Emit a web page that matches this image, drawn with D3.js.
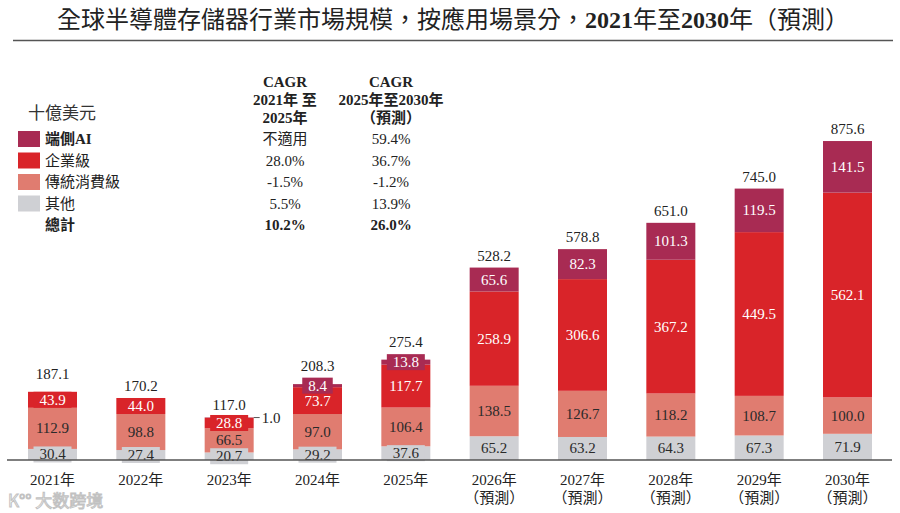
<!DOCTYPE html>
<html>
  <head>
    <meta charset="utf-8">
    <title>全球半導體存儲器行業市場規模</title>
    <script src="https://d3js.org/d3.v7.min.js"></script>
    <style>
      body {
        margin: 0;
        background-color: white;
      }
      svg text {
        font-family: "Liberation Serif", "Noto Sans CJK TC", serif;
      }
    </style>
  </head>
  <body>
    <script>
      // data (十億美元)
      const years = ['2021年', '2022年', '2023年', '2024年', '2025年', '2026年', '2027年', '2028年', '2029年', '2030年'];
      const forecast = [false, false, false, false, false, true, true, true, true, true];
      const other = [30.4, 27.4, 20.7, 29.2, 37.6, 65.2, 63.2, 64.3, 67.3, 71.9];
      const consumer = [112.9, 98.8, 66.5, 97.0, 106.4, 138.5, 126.7, 118.2, 108.7, 100.0];
      const enterprise = [43.9, 44.0, 28.8, 73.7, 117.7, 258.9, 306.6, 367.2, 449.5, 562.1];
      const edgeAI = [0, 0, 1.0, 8.4, 13.8, 65.6, 82.3, 101.3, 119.5, 141.5];
      const totals = [187.1, 170.2, 117.0, 208.3, 275.4, 528.2, 578.8, 651.0, 745.0, 875.6];

      const seriesNames = ['端側AI', '企業級', '傳統消費級', '其他'];
      const cagr1 = ['不適用', '28.0%', '-1.5%', '5.5%', '10.2%'];
      const cagr2 = ['59.4%', '36.7%', '-1.2%', '13.9%', '26.0%'];

      const w = 900;
      const h = 513;
      const colors = {
        '端側AI': '#a82b53',
        '企業級': '#d92429',
        '傳統消費級': '#e07c70',
        '其他': '#cfd0d4'
      };
      const textColors = {
        '端側AI': 'white',
        '企業級': 'white',
        '傳統消費級': '#2a2a2a',
        '其他': '#2a2a2a'
      };

      const svg = d3.select('body')
                    .append('svg')
                    .attr('width', w)
                    .attr('height', h);

      // title
      const title = svg.append('text')
         .attr('x', 453)
         .attr('y', 28)
         .attr('text-anchor', 'middle')
         .style('font-size', '24px')
         .style('fill', '#222');
      title.append('tspan').text('全球半導體存儲器行業市場規模，按應用場景分，');
      title.append('tspan').style('font-weight', 'bold').text('2021');
      title.append('tspan').text('年至');
      title.append('tspan').style('font-weight', 'bold').text('2030');
      title.append('tspan').text('年（預測）');

      svg.append('line')
         .attr('x1', 13).attr('x2', 893)
         .attr('y1', 40.5).attr('y2', 40.5)
         .style('stroke', '#555')
         .style('stroke-width', 1.3);

      // scales
      const x = d3.scalePoint()
                  .domain(years)
                  .range([52.5, 847.5]);
      const barW = 49;
      const y = d3.scaleLinear()
                  .domain([0, d3.max(totals)])
                  .range([460, 141]);

      const table = years.map((yr, i) => ({
        year: yr,
        '其他': other[i],
        '傳統消費級': consumer[i],
        '企業級': enterprise[i],
        '端側AI': edgeAI[i]
      }));

      const stack = d3.stack().keys(['其他', '傳統消費級', '企業級', '端側AI']);
      const layers = stack(table);

      const g = svg.append('g');

      layers.forEach(layer => {
        const key = layer.key;
        g.selectAll(null)
         .data(layer)
         .enter()
         .append('rect')
         .attr('x', d => x(d.data.year) - barW / 2)
         .attr('y', d => y(d[1]))
         .attr('width', barW)
         .attr('height', d => y(d[0]) - y(d[1]))
         .style('fill', colors[key]);
      });

      // segment labels
      layers.forEach(layer => {
        const key = layer.key;
        layer.forEach(d => {
          const v = d.data[key];
          if (!v) return;
          const cx = x(d.data.year);
          const segH = y(d[0]) - y(d[1]);
          const cy = (y(d[0]) + y(d[1])) / 2;
          const label = v.toFixed(1);
          if (segH < 2) {
            // tiny segment, label outside with a leader line
            g.append('line')
             .attr('x1', cx + barW / 2).attr('x2', cx + barW / 2 + 6)
             .attr('y1', cy).attr('y2', cy)
             .style('stroke', '#555');
            g.append('text')
             .attr('x', cx + barW / 2 + 8)
             .attr('y', cy + 5)
             .text(label)
             .style('font-size', '15px')
             .style('fill', '#222');
            return;
          }
          if (segH < 16) {
            const bw = label.length * 7.5 + 8;
            g.append('rect')
             .attr('x', cx - bw / 2)
             .attr('y', cy - 8)
             .attr('width', bw)
             .attr('height', 16)
             .style('fill', colors[key]);
          }
          g.append('text')
           .attr('x', cx)
           .attr('y', cy + 5)
           .attr('text-anchor', 'middle')
           .text(label)
           .style('font-size', '15px')
           .style('fill', textColors[key]);
        });
      });

      // totals
      g.selectAll('.total')
       .data(table)
       .enter()
       .append('text')
       .attr('class', 'total')
       .attr('x', d => x(d.year))
       .attr('y', (d, i) => {
         const top = y(totals[i]);
         const topSeg = edgeAI[i] > 0 ? edgeAI[i] : enterprise[i];
         const segH = y(0) - y(topSeg);
         return (segH < 16 && segH >= 2) ? top - 13 : top - 7;
       })
       .attr('text-anchor', 'middle')
       .text((d, i) => totals[i].toFixed(1))
       .style('font-size', '15px')
       .style('fill', '#222');

      // baseline
      svg.append('line')
         .attr('x1', 7).attr('x2', 892)
         .attr('y1', y(0)).attr('y2', y(0))
         .style('stroke', '#555')
         .style('stroke-width', 1.3);

      // x labels
      const xl = svg.selectAll('.xlabel')
                    .data(years)
                    .enter()
                    .append('text')
                    .attr('class', 'xlabel')
                    .attr('x', d => x(d))
                    .attr('y', 485)
                    .attr('text-anchor', 'middle')
                    .style('font-size', '15px')
                    .style('fill', '#222');
      xl.append('tspan').text(d => d);
      xl.filter((d, i) => forecast[i])
        .append('tspan')
        .attr('x', d => x(d))
        .attr('dy', 18)
        .text('（預測）');

      // legend + cagr table
      svg.append('text')
         .attr('x', 28)
         .attr('y', 119)
         .text('十億美元')
         .style('font-size', '17px')
         .style('fill', '#333');

      const rowY = [139, 160.5, 182, 203.5, 225];
      const legend = svg.append('g');
      seriesNames.forEach((s, i) => {
        legend.append('rect')
              .attr('x', 18)
              .attr('y', rowY[i] - 8)
              .attr('width', 22)
              .attr('height', 16)
              .style('fill', colors[s]);
        legend.append('text')
              .attr('x', 45)
              .attr('y', rowY[i] + 5)
              .text(s)
              .style('font-size', '15px')
              .style('font-weight', i === 0 ? 'bold' : 'normal')
              .style('fill', '#222');
      });
      legend.append('text')
            .attr('x', 45)
            .attr('y', rowY[4] + 5)
            .text('總計')
            .style('font-size', '15px')
            .style('font-weight', 'bold')
            .style('fill', '#222');

      const head1 = ['CAGR', '2021年 至', '2025年'];
      const head2 = ['CAGR', '2025年至2030年', '（預測）'];
      const headY = [87, 105, 123];
      [[head1, 285], [head2, 391]].forEach(([lines, cx]) => {
        lines.forEach((t, j) => {
          legend.append('text')
                .attr('x', cx)
                .attr('y', headY[j])
                .attr('text-anchor', 'middle')
                .text(t)
                .style('font-size', '15px')
                .style('font-weight', 'bold')
                .style('fill', '#222');
        });
      });
      [[cagr1, 285], [cagr2, 391]].forEach(([vals, cx]) => {
        vals.forEach((t, j) => {
          legend.append('text')
                .attr('x', cx)
                .attr('y', rowY[j] + 5)
                .attr('text-anchor', 'middle')
                .text(t)
                .style('font-size', '15px')
                .style('font-weight', j === 4 ? 'bold' : 'normal')
                .style('fill', '#222');
        });
      });

      // watermark
      svg.append('text')
         .attr('x', 8)
         .attr('y', 507)
         .text('K°° 大数跨境')
         .style('font-size', '17px')
         .style('font-family', '"Noto Sans CJK SC", sans-serif')
         .style('fill', 'white')
         .style('stroke', '#bbb')
         .style('stroke-width', 1)
         .style('opacity', 0.9);
    </script>
  </body>
</html>
